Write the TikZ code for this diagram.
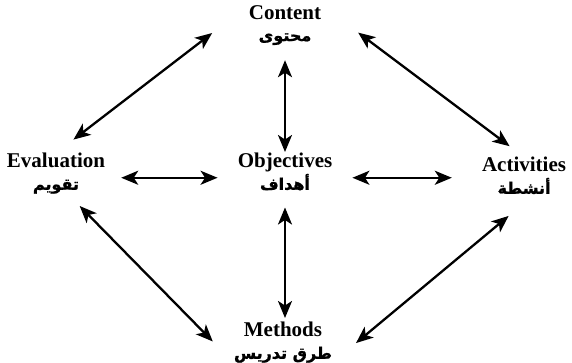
\documentclass[tikz,border=0pt]{standalone}
\usepackage{fontspec}
\setmainfont{Liberation Serif}
\newfontfamily\arabicfont[Script=Arabic,FakeBold=1.2]{DejaVu Sans}
\TeXXeTstate=1
\usetikzlibrary{arrows.meta}
\newcommand{\arlabel}[1]{{\arabicfont\fontsize{16}{18}\selectfont\beginR #1\endR}}

\begin{document}
\begin{tikzpicture}[x=1pt,y=1pt]
        \tikzstyle{every node}+=[inner sep=0pt]
        \tikzstyle{term}=[anchor=north,align=center,font=\bfseries\fontsize{21}{22}\selectfont]
        \tikzstyle{link}=[{Stealth[length=17pt,width=14pt,inset=4.5pt]}-{Stealth[length=17pt,width=14pt,inset=4.5pt]},line width=2.3pt]
        \useasboundingbox (0,0) rectangle (572,-362);
        \node [term] (content) at (285,-5) {Content\\\arlabel{محتوى}};
        \node [term] (eval) at (56,-153) {Evaluation\\\arlabel{تقويم}};
        \node [term] (obj) at (285,-153) {Objectives\\\arlabel{أهداف}};
        \node [term] (act) at (524,-157) {Activities\\\arlabel{أنشطة}};
        \node [term] (meth) at (283,-322) {Methods\\\arlabel{طرق تدريس}};
        \draw [link,shorten <=46pt,shorten >=22pt] (content.north west) -- (eval.north);
        \draw [link,shorten <=46pt,shorten >=18pt] (content.north east) -- (act.north);
        \draw [link,shorten <=17pt,shorten >=30pt] (eval.-60) -- (meth.south west);
        \draw [link,shorten <=34pt,shorten >=31pt] (act.-60) -- (meth.south east);
        \draw [link,shorten <=15pt,shorten >=1pt] (obj.north |- content.south) -- (obj.north);
        \draw [link,shorten <=17pt,shorten >=4pt] (obj.south) -- (obj.south |- meth.north);
        \draw [link,shorten <=16pt,shorten >=20pt] ([yshift=-6pt]obj.west -| eval.east) -- ([yshift=-6pt]obj.west);
        \draw [link,shorten <=20pt,shorten >=30pt] ([yshift=-6pt]obj.east) -- ([yshift=-6pt]obj.east -| act.west);
\end{tikzpicture}
\end{document}
